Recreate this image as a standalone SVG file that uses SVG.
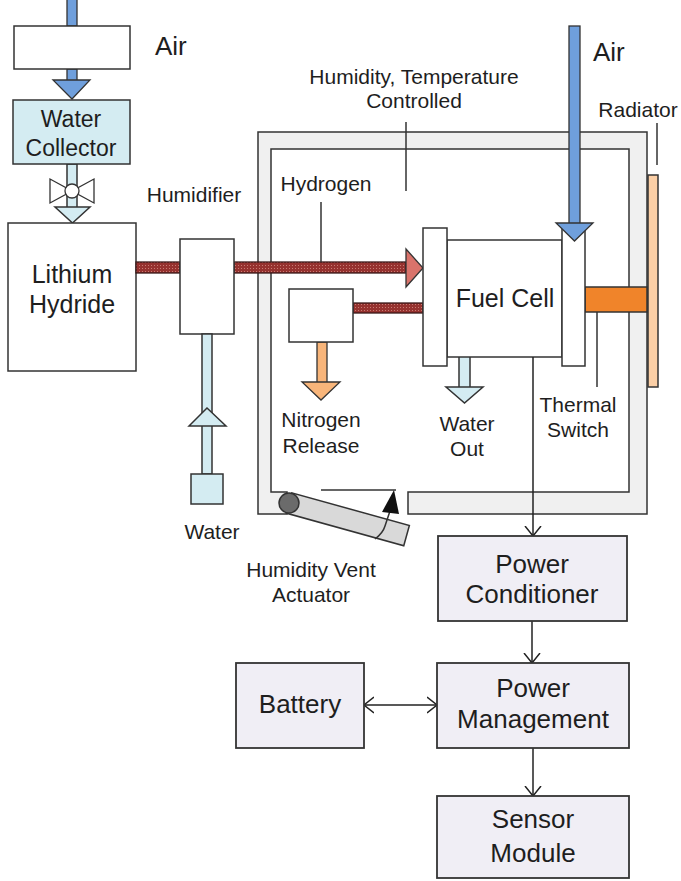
<svg xmlns="http://www.w3.org/2000/svg" width="681" height="881" viewBox="0 0 681 881">
<defs>
<pattern id="hatch" patternUnits="userSpaceOnUse" width="3" height="3">
<rect width="3" height="3" fill="#96322f"/>
<rect x="1" y="1" width="1" height="1" fill="#c87a72"/>
</pattern>
<marker id="arr" viewBox="0 0 10 18" refX="10" refY="9" markerWidth="10" markerHeight="18" markerUnits="userSpaceOnUse" orient="auto-start-reverse">
<path d="M0,1 L10,9 L0,17" fill="none" stroke="#222" stroke-width="1.5"/>
</marker>
<style>
.box{fill:#fff;stroke:#333;stroke-width:1.5}
.pw{fill:#f0eef5;stroke:#333;stroke-width:1.8}
.lb{fill:#d4ecf2;stroke:#333;stroke-width:1.5}
.blue{fill:#6f9fdc;stroke:#333;stroke-width:1.3}
.h2{fill:url(#hatch);stroke:#3a1a1a;stroke-width:1.3}
.lead{stroke:#333;stroke-width:1.5;fill:none}
.conn{stroke:#222;stroke-width:1.5;fill:none}
text{font-family:"Liberation Sans",Arial,sans-serif;fill:#1e1e1e;text-anchor:middle}
.t{font-size:21px}
.b{font-size:25px}
.c{font-size:26px}
</style>
</defs>

<g id="enclosure">
<path d="M287,514 L258,514 L258,132 L647,132 L647,514 L408,514 L408,492 L629,492 L629,149 L271,149 L271,492 L287,492 Z" fill="#f0f0f0" stroke="#333" stroke-width="1.5"/>
</g>

<g id="radiator">
<rect x="648" y="175" width="10" height="212" fill="#fbcfa6" stroke="#333" stroke-width="1.5"/>
</g>
<g id="thermal-switch">
<rect x="585" y="287" width="62" height="25" fill="#f0842a" stroke="#333" stroke-width="1.5"/>
</g>

<g id="air-inlet-top">
<rect class="blue" x="67" y="-2" width="10" height="28"/>
<rect class="blue" x="67" y="69" width="10" height="14"/>
<polygon class="blue" points="53,80 90,80 72,99"/>
</g>
<g id="air-box">
<rect class="box" x="14" y="26" width="116" height="43"/>
</g>

<g id="water-line-collector">
<rect class="lb" x="67" y="164" width="10" height="45"/>
<polygon class="lb" points="55,207 90,207 72.5,223"/>
</g>
<g id="valve">
<polygon points="50,179 50,203 72,191" fill="#fff" stroke="#333" stroke-width="1.3"/>
<polygon points="94,179 94,203 72,191" fill="#fff" stroke="#333" stroke-width="1.3"/>
<circle cx="72" cy="191" r="7" fill="#fff" stroke="#333" stroke-width="1.3"/>
</g>
<g id="water-collector">
<rect class="lb" x="13" y="100" width="117" height="64"/>
<text x="71" y="127" style="font-size:23px">Water</text>
<text x="71" y="156" style="font-size:23px">Collector</text>
</g>

<g id="lithium-hydride">
<rect class="box" x="8" y="223" width="128" height="148"/>
<text class="b" x="72" y="283">Lithium</text>
<text class="b" x="72" y="313">Hydride</text>
</g>

<g id="hydrogen-pipe">
<rect class="h2" x="136" y="262" width="44" height="11"/>
<rect class="h2" x="234" y="262" width="172" height="11"/>
<polygon points="406,249 423,268 406,287" fill="#d9736b" stroke="#333" stroke-width="1.3"/>
<rect class="h2" x="353" y="303" width="70" height="10"/>
</g>

<g id="humidifier">
<rect class="box" x="180" y="239" width="54" height="95"/>
</g>

<g id="water-supply">
<rect class="lb" x="202" y="334" width="10" height="140"/>
<polygon class="lb" points="189,426 207,408 226,426"/>
<rect class="lb" x="191" y="474" width="32" height="30"/>
</g>

<g id="nitrogen">
<rect fill="#f8b57a" stroke="#333" stroke-width="1.3" x="317" y="342" width="10" height="41"/>
<polygon fill="#f8b57a" stroke="#333" stroke-width="1.3" points="302,382 340,382 321,400"/>
<rect class="box" x="289" y="289" width="64" height="53"/>
</g>

<g id="water-out">
<rect class="lb" x="459" y="356" width="11" height="32"/>
<polygon class="lb" points="446,387 483,387 464.5,403"/>
</g>

<g id="fuel-cell">
<rect class="box" x="447" y="240" width="115" height="117"/>
<rect class="box" x="423" y="228" width="24" height="138"/>
<rect class="box" x="562" y="228" width="23" height="138"/>
<text class="b" x="505" y="307">Fuel Cell</text>
</g>

<g id="air-inlet-right">
<rect class="blue" x="569" y="26" width="11" height="198"/>
<polygon class="blue" points="556,223 593,223 574.5,241"/>
</g>

<g id="vent-actuator">
<rect x="289" y="492.5" width="122" height="21" fill="#d9d9d9" stroke="#333" stroke-width="1.5" transform="rotate(15.5 289 503)"/>
<circle cx="289" cy="503" r="10" fill="#6b6b6b" stroke="#333" stroke-width="1.5"/>
<line class="lead" x1="321" y1="490" x2="396" y2="490"/>
<path class="lead" d="M390,511 L385,526 Q383,533 375,539"/>
<polygon points="394,490 382,512 399,514" fill="#111"/>
</g>

<g id="leaders">
<line class="lead" x1="321" y1="202" x2="321" y2="262"/>
<line class="lead" x1="406" y1="122" x2="406" y2="191"/>
<line class="lead" x1="657" y1="123" x2="657" y2="165"/>
<line class="lead" x1="597" y1="312" x2="597" y2="387"/>
</g>

<g id="labels">
<text x="155" y="55" style="font-size:26px;text-anchor:start">Air</text>
<text x="593" y="61" style="font-size:26px;text-anchor:start">Air</text>
<text class="t" x="194" y="202">Humidifier</text>
<text class="t" x="326" y="191">Hydrogen</text>
<text class="t" x="414" y="84">Humidity, Temperature</text>
<text class="t" x="414" y="108">Controlled</text>
<text class="t" x="638" y="117">Radiator</text>
<text class="t" x="321" y="427">Nitrogen</text>
<text class="t" x="321" y="453">Release</text>
<text class="t" x="467" y="431">Water</text>
<text class="t" x="467" y="456">Out</text>
<text class="t" x="578" y="412">Thermal</text>
<text class="t" x="578" y="437">Switch</text>
<text class="t" x="212" y="539">Water</text>
<text class="t" x="311" y="577">Humidity Vent</text>
<text class="t" x="311" y="602">Actuator</text>
</g>

<g id="connectors">
<line class="conn" x1="533" y1="357" x2="533" y2="536" marker-end="url(#arr)"/>
<line class="conn" x1="532" y1="621" x2="532" y2="663" marker-end="url(#arr)"/>
<line class="conn" x1="533" y1="748" x2="533" y2="796" marker-end="url(#arr)"/>
<line class="conn" x1="364" y1="705" x2="437" y2="705" marker-start="url(#arr)" marker-end="url(#arr)"/>
</g>

<g id="power-conditioner">
<rect class="pw" x="438" y="536" width="189" height="85"/>
<text class="c" x="532" y="573">Power</text>
<text class="c" x="532" y="603">Conditioner</text>
</g>
<g id="power-management">
<rect class="pw" x="437" y="663" width="192" height="85"/>
<text class="c" x="533" y="697">Power</text>
<text class="c" x="533" y="728">Management</text>
</g>
<g id="battery">
<rect class="pw" x="236" y="663" width="128" height="85"/>
<text class="c" x="300" y="713">Battery</text>
</g>
<g id="sensor-module">
<rect class="pw" x="437" y="796" width="192" height="82"/>
<text class="c" x="533" y="828">Sensor</text>
<text class="c" x="533" y="862">Module</text>
</g>
</svg>
